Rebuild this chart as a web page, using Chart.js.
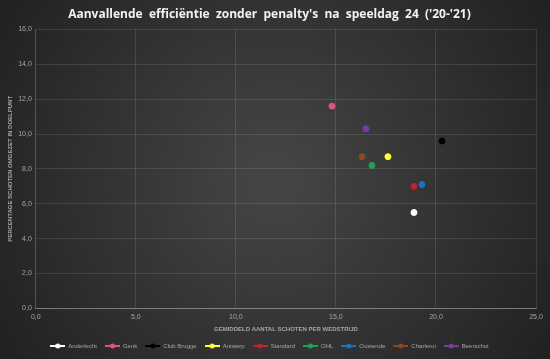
<!DOCTYPE html>
<html>
<head>
<meta charset="utf-8">
<script src="https://cdn.jsdelivr.net/npm/chart.js@4"></script>
<style>
  html, body { margin: 0; padding: 0; background: #2a2a2a; }
  #wrap { width: 550px; height: 359px; }
</style>
</head>
<body>
<div id="wrap"><canvas id="chart" width="550" height="359"></canvas></div>
<script>
const teams = ['Anderlecht', 'Genk', 'Club Brugge', 'Antwerp', 'Standard', 'OHL', 'Oostende', 'Charleroi', 'Beerschot']
const shotsPerMatch = [18.9, 14.8, 20.3, 17.6, 18.9, 16.8, 19.3, 16.3, 16.5]
const pctOnTarget = [5.5, 11.6, 9.6, 8.7, 7.0, 8.2, 7.1, 8.7, 10.3]
const colors = ['#ffffff', '#e0508f', '#000000', '#ffff33', '#c8202a', '#1ea055', '#2070c0', '#8a4a20', '#7a3ca0']
const xTicks = [0, 5, 10, 15, 20, 25]
const yTicks = [0, 2, 4, 6, 8, 10, 12, 14, 16]

const fmt = v => Number(v).toFixed(1).replace('.', ',')

// small line+dot marker for the legend
function legendMarker(color) {
  const c = document.createElement('canvas')
  c.width = 15; c.height = 6
  const ctx = c.getContext('2d')
  ctx.strokeStyle = color
  ctx.lineWidth = 2
  ctx.beginPath(); ctx.moveTo(0, 3); ctx.lineTo(15, 3); ctx.stroke()
  ctx.fillStyle = color
  ctx.beginPath(); ctx.arc(7.5, 3, 2.5, 0, Math.PI * 2); ctx.fill()
  return c
}

const bgPlugin = {
  id: 'bg',
  beforeDraw(chart) {
    const { ctx, width, height } = chart
    const g = ctx.createRadialGradient(width / 2, height / 2, 20, width / 2, height / 2, width * 0.62)
    g.addColorStop(0, '#444444')
    g.addColorStop(1, '#1f1f1f')
    ctx.save()
    ctx.fillStyle = g
    ctx.fillRect(0, 0, width, height)
    ctx.restore()
  }
}

const datasets = teams.map((t, i) => ({
  label: t,
  data: [{ x: shotsPerMatch[i], y: pctOnTarget[i] }],
  backgroundColor: colors[i],
  borderColor: colors[i],
  pointRadius: 3,
  pointHoverRadius: 3,
  pointStyle: 'circle',
  legendMarker: legendMarker(colors[i])
}))

const tickColor = '#a6a6a6'

new Chart(document.getElementById('chart'), {
  type: 'scatter',
  data: { datasets },
  plugins: [bgPlugin],
  options: {
    responsive: false,
    animation: false,
    layout: { padding: { left: 3, right: 14, top: 3, bottom: 0 } },
    plugins: {
      title: {
        display: true,
        text: "Aanvallende  efficiëntie  zonder  penalty's  na  speeldag  24  ('20-'21)",
        color: '#f2f2f2',
        font: { family: 'Open Sans', size: 12, weight: 'bold' },
        padding: { top: 4, bottom: 8 }
      },
      legend: {
        position: 'bottom',
        labels: {
          color: '#a6a6a6',
          font: { family: 'Liberation Sans', size: 6 },
          usePointStyle: true,
          pointStyleWidth: 15,
          boxHeight: 6,
          padding: 8,
          generateLabels(chart) {
            return chart.data.datasets.map((d, i) => ({
              text: d.label,
              pointStyle: d.legendMarker,
              fillStyle: d.backgroundColor,
              strokeStyle: d.borderColor,
              fontColor: '#a6a6a6',
              lineWidth: 0,
              datasetIndex: i,
              hidden: false
            }))
          }
        }
      },
      tooltip: { enabled: false }
    },
    scales: {
      x: {
        type: 'linear',
        min: 0, max: 25,
        afterBuildTicks: s => { s.ticks = xTicks.map(v => ({ value: v })) },
        ticks: { color: tickColor, font: { family: 'Liberation Sans', size: 7 }, callback: fmt, padding: 4 },
        grid: { color: 'rgba(255,255,255,0.11)', drawTicks: false },
        border: { color: 'rgba(255,255,255,0.3)' },
        title: {
          display: true,
          text: 'GEMIDDELD AANTAL SCHOTEN PER WEDSTRIJD',
          color: '#a6a6a6',
          font: { family: 'Liberation Sans', size: 6, weight: 'bold' },
          padding: { top: 1, bottom: 2 }
        }
      },
      y: {
        type: 'linear',
        min: 0, max: 16,
        afterBuildTicks: s => { s.ticks = yTicks.map(v => ({ value: v })) },
        ticks: { color: tickColor, font: { family: 'Liberation Sans', size: 7 }, callback: fmt, padding: 4 },
        grid: { color: 'rgba(255,255,255,0.11)', drawTicks: false },
        border: { color: 'rgba(255,255,255,0.11)' },
        title: {
          display: true,
          text: 'PERCENTAGE SCHOTEN OMGEZET IN DOELPUNT',
          color: '#a6a6a6',
          font: { family: 'Liberation Sans', size: 6, weight: 'bold' },
          padding: { top: 4, bottom: 0 }
        }
      }
    }
  }
})
</script>
</body>
</html>
